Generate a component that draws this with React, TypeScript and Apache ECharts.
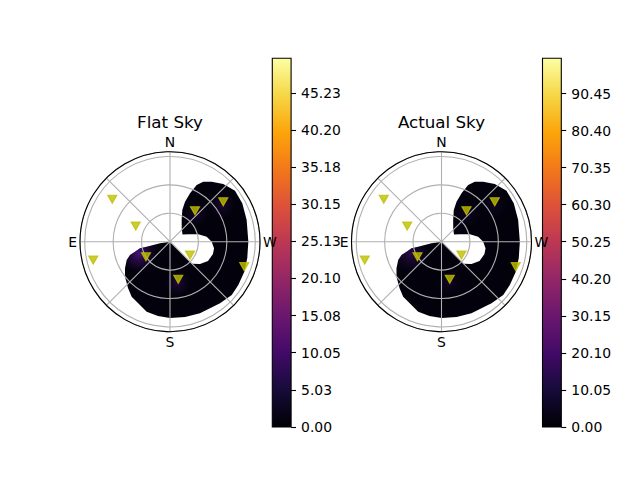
import React, { useEffect, useRef } from "react";
import * as echarts from "echarts";

// ---------- data ----------
const TITLES = ["Flat Sky", "Actual Sky"];
const ANGLE_LABELS: Record<number, string> = { 0: "N", 90: "E", 180: "S", 270: "W" };

// heat-map footprint edge: [zenith angle, azimuth (deg, N=0, E=90)]
const HEAT_EDGE: [number, number][] = [
  [0, 100], [10.7, 99.1], [25.2, 102.1], [32.4, 102.4], [38.4, 105.9], [44.5, 108.4],
  [49.6, 112.9], [55.2, 120.6], [60.2, 127.9], [66.0, 137.8], [70.7, 145.1], [73.0, 152.4],
  [77.9, 161.6], [79.4, 170.8], [80.5, 180], [81.0, 191.3], [81.9, 202.7], [83.7, 219.1],
  [86.1, 229.2], [85.4, 237.6], [84.6, 248.0], [83.4, 257.9], [82.7, 270], [84.1, 285.8],
  [86.4, 298.0], [87.2, 308.1], [82.9, 317.3], [77.1, 325.2], [72.4, 331.0], [66.1, 334.8],
  [55.3, 337.5], [45.1, 339.4], [35.9, 338.8], [26.0, 331.7], [18.8, 318.9], [15.2, 299.9],
  [20.8, 292.0], [30.9, 284.7], [39.1, 277.8], [44.0, 270], [47.0, 261.5], [47.2, 254.0],
  [45.0, 243.1], [39.5, 233.4], [32.8, 225], [0, 225],
];

// faint hot spots inside the footprint: [zenith, azimuth, relative level]
const HOT_FLAT: [number, number, number][] = [
  [35.5, 111, 1.0], [44.4, 191, 0.4], [67.2, 305.2, 0.35], [40.1, 316.8, 0.3],
];
const HOT_ACTUAL: [number, number, number][] = [
  [35.5, 111, 0.55], [44.4, 191, 0.22], [67.2, 305.2, 0.2], [40.1, 316.8, 0.18],
];

// sensor positions: [zenith, azimuth]
const SENSORS: [number, number][] = [
  [75.6, 53.7], [39.8, 65.4], [83.3, 103.4], [29.9, 122], [25.3, 236.4],
  [40.6, 192.4], [42.0, 321.1], [70.3, 306.9], [82.7, 251.4],
];

const CB_MAX = [49.9, 100];
const CB_TICKS = [
  [0, 5.03, 10.05, 15.08, 20.1, 25.13, 30.15, 35.18, 40.2, 45.23],
  [0, 10.05, 20.1, 30.15, 40.2, 50.25, 60.3, 70.35, 80.4, 90.45],
];

// inferno colour map
const INFERNO = [
  "#000004", "#160b39", "#420a68", "#6a176e", "#932667", "#bc3754",
  "#dd513a", "#f37819", "#fca50a", "#f6d746", "#fcffa4",
];

const FONT = "DejaVu Sans";

export default function App() {
  const ref = useRef<HTMLDivElement>(null);
  useEffect(() => {
    if (!ref.current) return;
    const chart = echarts.init(ref.current, undefined, { renderer: "svg" });

    const centers = [[170, 241.7], [441.5, 241.7]];
    const cbLeft = [272.3, 542.5];
    const hots = [HOT_FLAT, HOT_ACTUAL];

    const polar = centers.map((c) => ({ center: c, radius: 90 }));
    const angleAxis = centers.map((_, i) => ({
      polarIndex: i,
      type: "value",
      min: 0,
      max: 360,
      interval: 45,
      startAngle: 90,
      clockwise: false,
      z: 4,
      axisLine: { show: true, lineStyle: { color: "#000", width: 1.1 } },
      axisTick: { show: false },
      axisLabel: {
        margin: 3,
        color: "#000",
        fontSize: 13.9,
        fontFamily: FONT,
        formatter: (v: number) => ANGLE_LABELS[v] ?? "",
      },
      splitLine: { show: true, lineStyle: { color: "#b0b0b0", width: 1.1 } },
    }));
    const radiusAxis = centers.map((_, i) => ({
      polarIndex: i,
      type: "value",
      min: 0,
      max: 95,
      interval: 30,
      z: 3,
      axisLine: { show: false },
      axisTick: { show: false },
      axisLabel: { show: false },
      splitLine: { show: true, lineStyle: { color: "#b0b0b0", width: 1.1 } },
    }));

    const stops = INFERNO.map((c, i) => ({ offset: i / (INFERNO.length - 1), color: c }));

    const grid = cbLeft.map((l) => ({
      left: l,
      top: 58.3,
      width: 18.8,
      height: 368.7,
      show: true,
      borderColor: "#000",
      borderWidth: 1.1,
      z: 3,
    }));
    const xAxis = cbLeft.map((_, i) => ({ gridIndex: i, type: "category", data: ["cb"], show: false }));
    const yAxis = cbLeft.map((_, i) => ({
      gridIndex: i,
      type: "value",
      position: "right",
      min: 0,
      max: CB_MAX[i],
      axisLine: { show: false },
      axisTick: {
        show: true,
        length: 4.9,
        lineStyle: { color: "#000", width: 1.1 },
        customValues: CB_TICKS[i],
      },
      axisLabel: {
        customValues: CB_TICKS[i],
        margin: 10,
        color: "#000",
        fontSize: 13.9,
        fontFamily: FONT,
        formatter: (v: number) => v.toFixed(2),
      },
      splitLine: { show: false },
    }));

    const series: any[] = [];
    centers.forEach((_, i) => {
      series.push({
        type: "custom",
        coordinateSystem: "polar",
        polarIndex: i,
        z: 1,
        silent: true,
        clip: false,
        data: [[0, 0]],
        renderItem: (_p: any, api: any) => {
          const pts = HEAT_EDGE.map(([r, a]) => api.coord([r, a]));
          const children: any[] = [
            { type: "polygon", shape: { points: pts }, style: { fill: "#03020c" } },
          ];
          hots[i].forEach(([r, a, lvl]) => {
            const [cx, cy] = api.coord([r, a]);
            const rad = lvl > 0.45 ? 18 : 13;
            children.push({
              type: "polygon",
              shape: { points: pts },
              style: {
                fill: new echarts.graphic.RadialGradient(
                  cx,
                  cy,
                  rad,
                  [
                    { offset: 0, color: `rgba(85,22,140,${0.85 * lvl})` },
                    { offset: 0.4, color: `rgba(70,18,120,${0.5 * lvl})` },
                    { offset: 1, color: "rgba(60,15,110,0)" },
                  ],
                  true
                ),
              },
            });
          });
          return { type: "group", children };
        },
      });
      series.push({
        type: "scatter",
        coordinateSystem: "polar",
        polarIndex: i,
        z: 6,
        silent: true,
        symbol: "triangle",
        symbolRotate: 180,
        symbolSize: [9, 8],
        itemStyle: { color: "#bfbf00", borderColor: "#bfbf00", borderWidth: 1.2 },
        data: SENSORS,
      });
      series.push({
        type: "bar",
        xAxisIndex: i,
        yAxisIndex: i,
        barWidth: "100%",
        silent: true,
        z: 1,
        itemStyle: { color: new echarts.graphic.LinearGradient(0, 1, 0, 0, stops) },
        data: [CB_MAX[i]],
      });
    });

    chart.setOption({
      animation: false,
      backgroundColor: "#fff",
      polar,
      angleAxis,
      radiusAxis,
      grid,
      xAxis,
      yAxis,
      series,
      graphic: TITLES.map((t, i) => ({
        type: "text",
        x: centers[i][0],
        y: 122,
        style: {
          text: t,
          align: "center",
          verticalAlign: "middle",
          fontSize: 16.7,
          fontFamily: FONT,
          fill: "#000",
        },
      })),
    });
    return () => chart.dispose();
  }, []);
  return (
    <div
      ref={ref}
      style={{ position: "fixed", left: 0, top: 0, width: 640, height: 480 }}
    />
  );
}
